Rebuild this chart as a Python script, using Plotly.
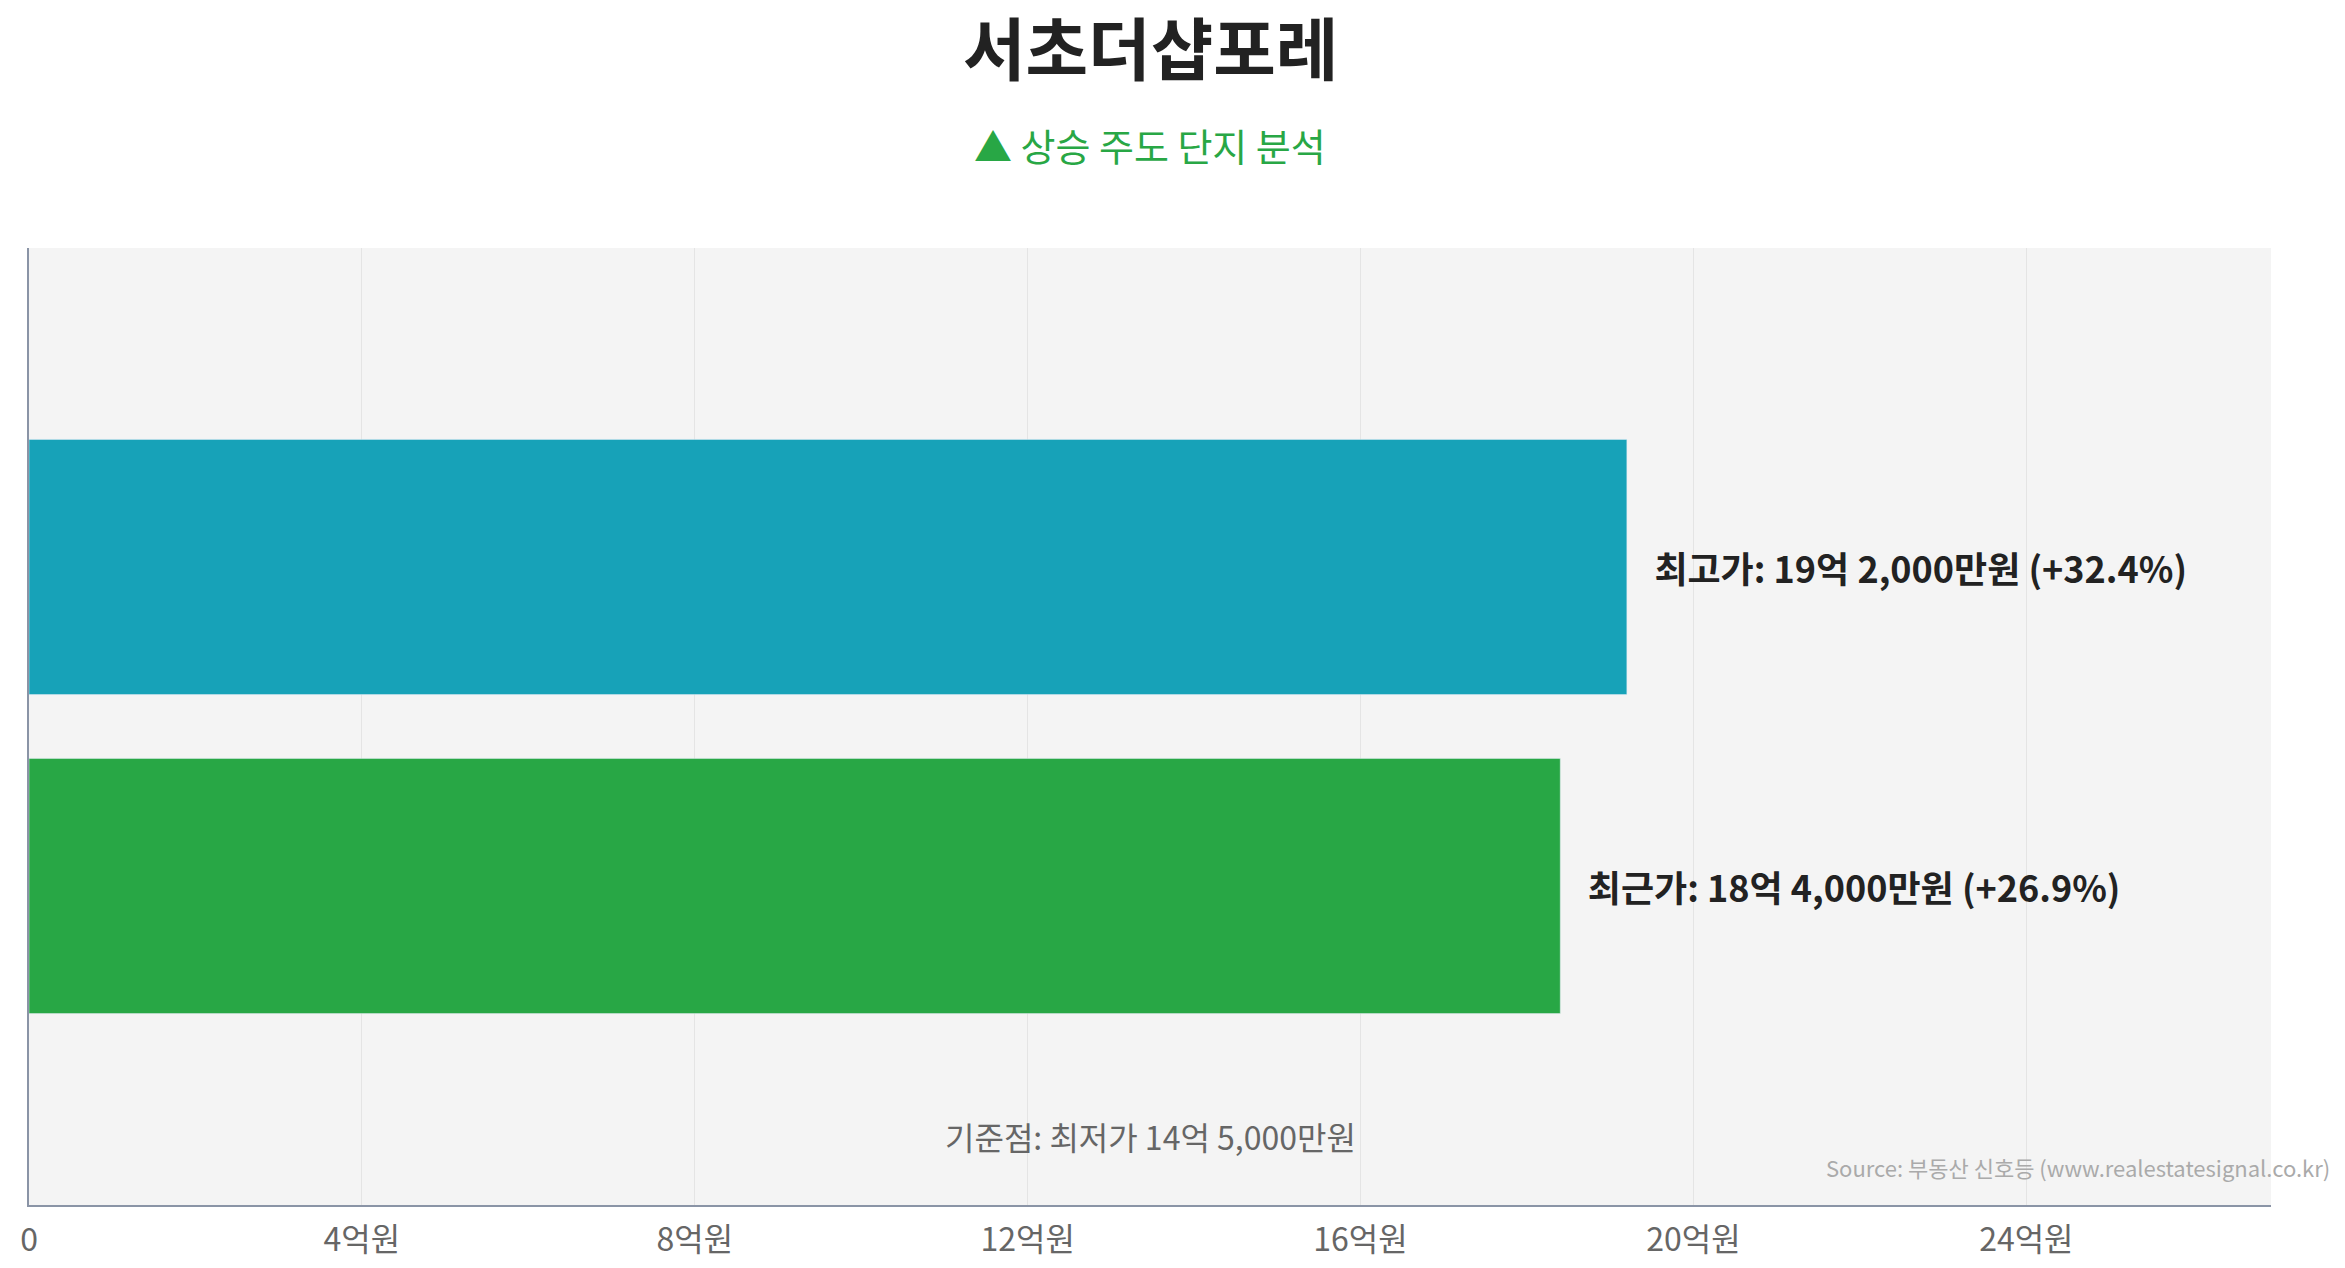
import plotly.graph_objects as go

categories = ["최근가", "최고가"]
values = [18.4, 19.2]
labels = ["   최근가: 18억 4,000만원 (+26.9%)", "   최고가: 19억 2,000만원 (+32.4%)"]
colors = ["#28a745", "#17a2b8"]
tick_vals = [0, 4, 8, 12, 16, 20, 24]
tick_text = ["0", "4억원", "8억원", "12억원", "16억원", "20억원", "24억원"]

F = "Noto Sans CJK KR"
fig = go.Figure(go.Bar(
    x=values, y=[0, 1], orientation="h", marker_color=colors, width=0.8,
    text=labels, textposition="outside", cliponaxis=False,
    textfont=dict(size=36, color="#222", family=F, weight="bold"),
))
fig.update_layout(
    width=2345, height=1268, paper_bgcolor="white", plot_bgcolor="#f4f4f4",
    margin=dict(l=18, r=82, t=240, b=71), showlegend=False,
    font=dict(family=F),
    xaxis=dict(range=[0, 26.94], tickvals=tick_vals, ticktext=tick_text,
               tickfont=dict(size=32, color="#666"), gridcolor="#e4e4e4",
               ticks="outside", ticklen=6, tickcolor="rgba(0,0,0,0)",
               showline=True, linecolor="#8a94a6", linewidth=2, zeroline=False),
    yaxis=dict(range=[-1, 2], showticklabels=False, showgrid=False,
               showline=True, linecolor="#8a94a6", linewidth=2, zeroline=False),
)
fig.add_annotation(text="<b>서초더샵포레</b>", xref="paper", yref="paper", x=0.5, y=1.212,
                   yanchor="middle", showarrow=False, font=dict(size=68, color="#222"))
fig.add_annotation(text="▲ 상승 주도 단지 분석", xref="paper", yref="paper", x=0.5, y=1.108,
                   yanchor="middle", showarrow=False, font=dict(size=38, color="#28a745"))
fig.add_annotation(text="기준점: 최저가 14억 5,000만원", xref="paper", yref="paper", x=0.5, y=0.072,
                   yanchor="middle", showarrow=False, font=dict(size=32, color="#666"))
fig.add_annotation(text="Source: 부동산 신호등 (www.realestatesignal.co.kr)", xref="paper", yref="paper",
                   x=1.027, y=0.04, xanchor="right", yanchor="middle", showarrow=False,
                   font=dict(size=22, color="#aaa"))
fig.write_html("out.html")
